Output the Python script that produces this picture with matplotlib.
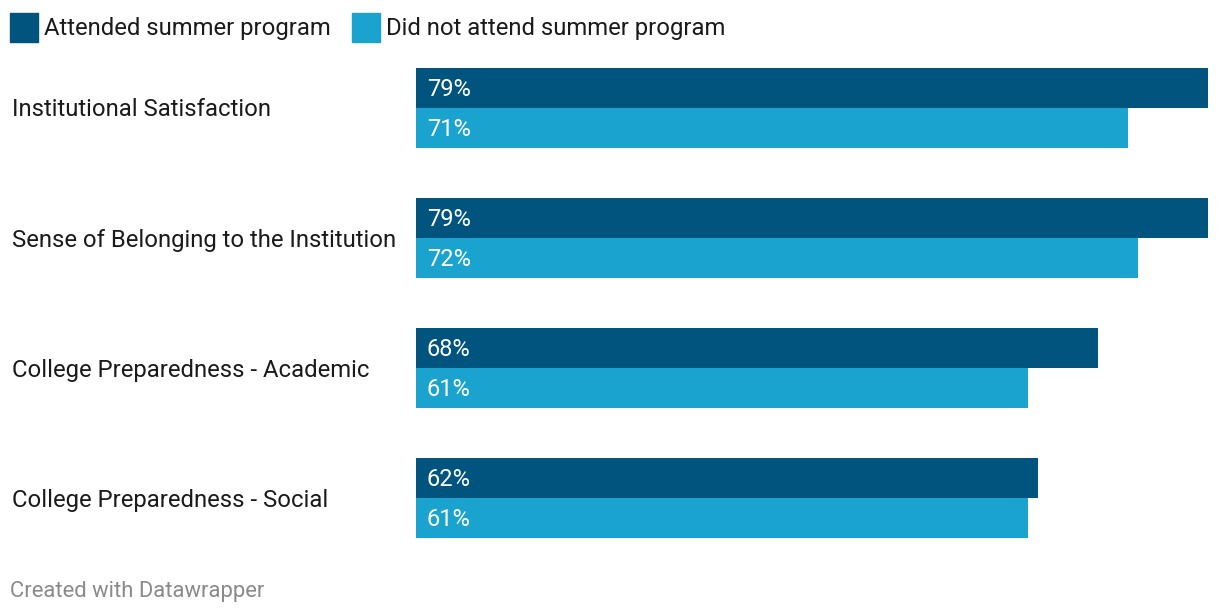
import matplotlib.pyplot as plt
from matplotlib.patches import Rectangle

categories = ['Institutional Satisfaction', 'Sense of Belonging to the Institution',
              'College Preparedness - Academic', 'College Preparedness - Social']
attended = [79, 79, 68, 62]
not_attended = [71, 72, 61, 61]
series_names = ['Attended summer program', 'Did not attend summer program']

dark = '#00547e'
light = '#1ba3d0'

plt.rcParams['font.family'] = ['Roboto', 'DejaVu Sans']

W, H = 1220, 616
fig = plt.figure(figsize=(W / 100, H / 100), dpi=100)
ax = fig.add_axes([416 / W, 1 - 538 / H, (1208 - 416) / W, (538 - 68) / H])

gap = 3.25
y_dark = [0.5 + gap * i for i in range(len(categories))]
y_light = [1.5 + gap * i for i in range(len(categories))]

ax.barh(y_dark, attended, height=1.0, color=dark)
ax.barh(y_light, not_attended, height=1.0, color=light)
# value labels, nudged down a pixel or so
for y, v in zip(y_dark, attended):
    ax.text(11 / 792 * 79, y + 0.04, f'{v}%', color='white', va='center', ha='left', fontsize=17)
for y, v in zip(y_light, not_attended):
    ax.text(11 / 792 * 79, y + 0.04, f'{v}%', color='white', va='center', ha='left', fontsize=17)

ax.set_xlim(0, 79)
ax.set_ylim(11.75, 0)
ax.axis('off')

# category labels
for i, c in enumerate(categories):
    fig.text(12 / W, 1 - (110 + 130 * i) / H, c, fontsize=17.2, color='#1a1a1a', va='center', ha='left')

# legend
for x0, name, col in [(10, series_names[0], dark), (352, series_names[1], light)]:
    fig.patches.append(Rectangle((x0 / W, 1 - 42 / H), 28 / W, 29 / H, transform=fig.transFigure,
                                 color=col, figure=fig))
    fig.text((x0 + 34) / W, 1 - 28 / H, name, fontsize=17.2, color='#1a1a1a', va='center', ha='left')

fig.text(10 / W, 1 - 592 / H, 'Created with Datawrapper', fontsize=15.8, color='#8a8a8a', va='center', ha='left')

fig.savefig('out.png', dpi=100, facecolor='white')
